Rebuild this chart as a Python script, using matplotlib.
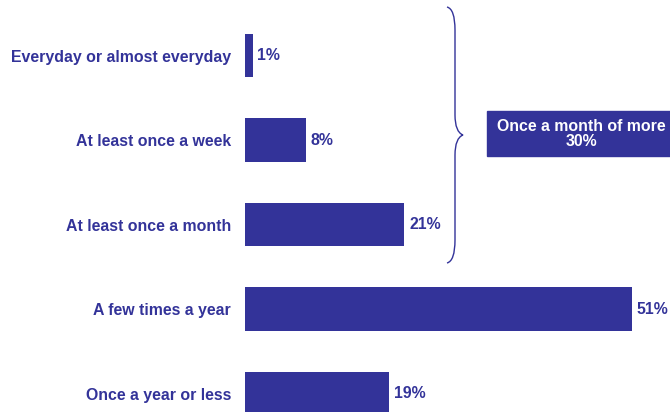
import matplotlib
matplotlib.use("Agg")
import matplotlib.pyplot as plt
from matplotlib.path import Path
from matplotlib.patches import PathPatch, Rectangle

# --- data ---
categories = ["Everyday or almost everyday", "At least once a week",
              "At least once a month", "A few times a year", "Once a year or less"]
values = [1, 8, 21, 51, 19]
group_label = "Once a month of more"
group_value = sum(values[:3])

BLUE = "#333399"
FS = 11.4
plt.rcParams["font.family"] = ["Liberation Sans", "DejaVu Sans"]

W, H = 670, 412
fig = plt.figure(figsize=(W / 100, H / 100), dpi=100)

# bar axes: x=0 at 245px, ~7.58 px per percent
x0 = 245
ax = fig.add_axes([x0 / W, 0, (W - x0) / W, 1])
ax.barh(range(len(values)), values, height=0.515, color=BLUE)
ax.set_xlim(0, (W - x0) / 7.58)
ax.set_ylim((H - 55.5) / 84.5, -55.5 / 84.5)
ax.set_yticks(range(len(categories)))
ax.set_yticklabels(categories, fontsize=FS, fontweight="bold", color=BLUE)
ax.tick_params(axis="y", length=0, pad=10)
ax.set_xticks([])
for s in ax.spines.values():
    s.set_visible(False)

for i, v in enumerate(values):
    ax.annotate(f"{v}%", (v, i), xytext=(3.5, 0), textcoords="offset points",
                va="center", ha="left", fontsize=FS, fontweight="bold", color=BLUE)

# overlay in pixel coordinates for the brace and group box
ov = fig.add_axes([0, 0, 1, 1])
ov.set_xlim(0, W)
ov.set_ylim(H, 0)
ov.axis("off")
ov.patch.set_alpha(0)

verts = [(447, 7), (455, 9), (455, 30),
         (455, 115),
         (455, 132), (463, 135),
         (455, 138), (455, 155),
         (455, 240),
         (455, 261), (447, 263)]
codes = [Path.MOVETO, Path.CURVE3, Path.CURVE3,
         Path.LINETO,
         Path.CURVE3, Path.CURVE3,
         Path.CURVE3, Path.CURVE3,
         Path.LINETO,
         Path.CURVE3, Path.CURVE3]
ov.add_patch(PathPatch(Path(verts, codes), fill=False, edgecolor=BLUE, lw=1))

ov.add_patch(Rectangle((487, 111), W - 487, 45, color=BLUE))
ov.text(581, 134, f"{group_label}\n{group_value}%", ha="center", va="center",
        color="white", fontsize=FS, fontweight="bold", linespacing=1.05)

fig.savefig("out.png", dpi=100)
